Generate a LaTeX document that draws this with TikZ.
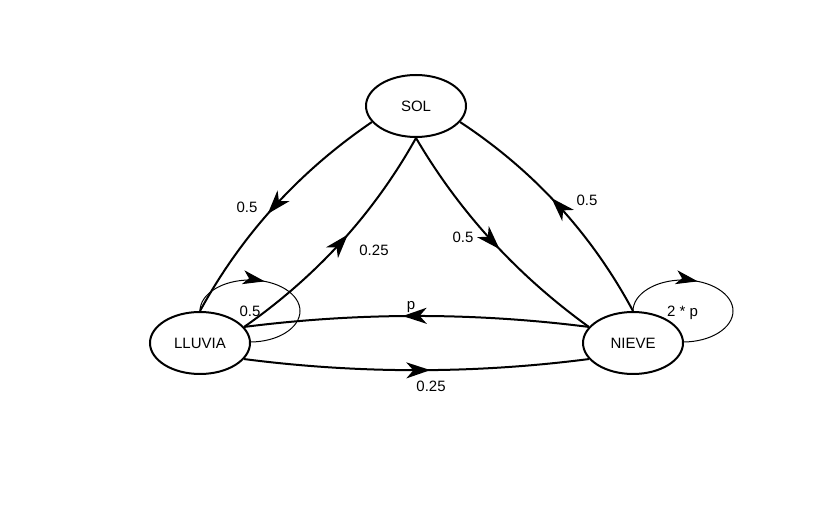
\documentclass[tikz,border=0pt]{standalone}
\usepackage{fontspec}
\setmainfont{Liberation Sans}
\usetikzlibrary{arrows.meta,calc,decorations.markings,shapes.geometric}
\pgfdeclarelayer{background}
\pgfsetlayers{background,main}
\begin{document}
\begin{tikzpicture}[x=1pt,y=1pt,
  state/.style={ellipse,draw,line width=2pt,fill=white,minimum width=100pt,minimum height=62pt,inner sep=0pt,font=\fontsize{15}{18}\selectfont},
  lbl/.style={anchor=base,inner sep=0pt,font=\fontsize{15}{18}\selectfont},
  tr/.style={line width=2pt,postaction={decorate},decoration={markings,mark=at position 0.54 with {\arrow{Stealth[length=24pt,width=16pt,inset=7pt]}}}},
  selfloop/.style={line width=1pt,postaction={decorate},decoration={markings,mark=at position 0.41 with {\arrow{Stealth[length=22pt,width=14pt,inset=6pt]}}}}
]
\useasboundingbox (0,0) rectangle (834,527);
\node[state] (sol) at (416,421) {SOL};
\node[state] (lluvia) at (200,184) {LLUVIA};
\node[state] (nieve) at (633,184) {NIEVE};
\coordinate (c1) at (262.7,330.6);
\coordinate (c2) at (352.8,275.9);
\coordinate (c3) at (481.3,277.7);
\coordinate (c4) at (570.7,332);
\coordinate (c5) at (416.5,222);
\coordinate (c6) at (416.5,145.7);
\begin{pgfonlayer}{background}
\draw[tr] (sol.200) .. controls ($(sol.200)!2/3!(c1)$) and ($(lluvia.north)!2/3!(c1)$) .. (lluvia.north);
\draw[tr] (lluvia.20) .. controls ($(lluvia.20)!2/3!(c2)$) and ($(sol.south)!2/3!(c2)$) .. (sol.south);
\draw[tr] (sol.south) .. controls ($(sol.south)!2/3!(c3)$) and ($(nieve.160)!2/3!(c3)$) .. (nieve.160);
\draw[tr] (nieve.north) .. controls ($(nieve.north)!2/3!(c4)$) and ($(sol.340)!2/3!(c4)$) .. (sol.340);
\draw[tr] (nieve.160) .. controls ($(nieve.160)!2/3!(c5)$) and ($(lluvia.20)!2/3!(c5)$) .. (lluvia.20);
\draw[tr] (lluvia.340) .. controls ($(lluvia.340)!2/3!(c6)$) and ($(nieve.200)!2/3!(c6)$) .. (nieve.200);
\draw[selfloop] (lluvia.north) arc[start angle=180,end angle=-90,x radius=50pt,y radius=31pt];
\draw[selfloop] (nieve.north) arc[start angle=180,end angle=-90,x radius=50pt,y radius=31pt];
\end{pgfonlayer}
\node[lbl] (l1) at (247,314) {0.5};
\node[lbl] (l2) at (374,271) {0.25};
\node[lbl] (l3) at (463,284) {0.5};
\node[lbl] (l4) at (587,321) {0.5};
\node[lbl] (l5) at (411,217) {p};
\node[lbl] (l6) at (431,135) {0.25};
\node[lbl] (l7) at (250,210) {0.5};
\node[lbl] (l8) at (682.5,210) {2 * p};
\end{tikzpicture}
\end{document}
